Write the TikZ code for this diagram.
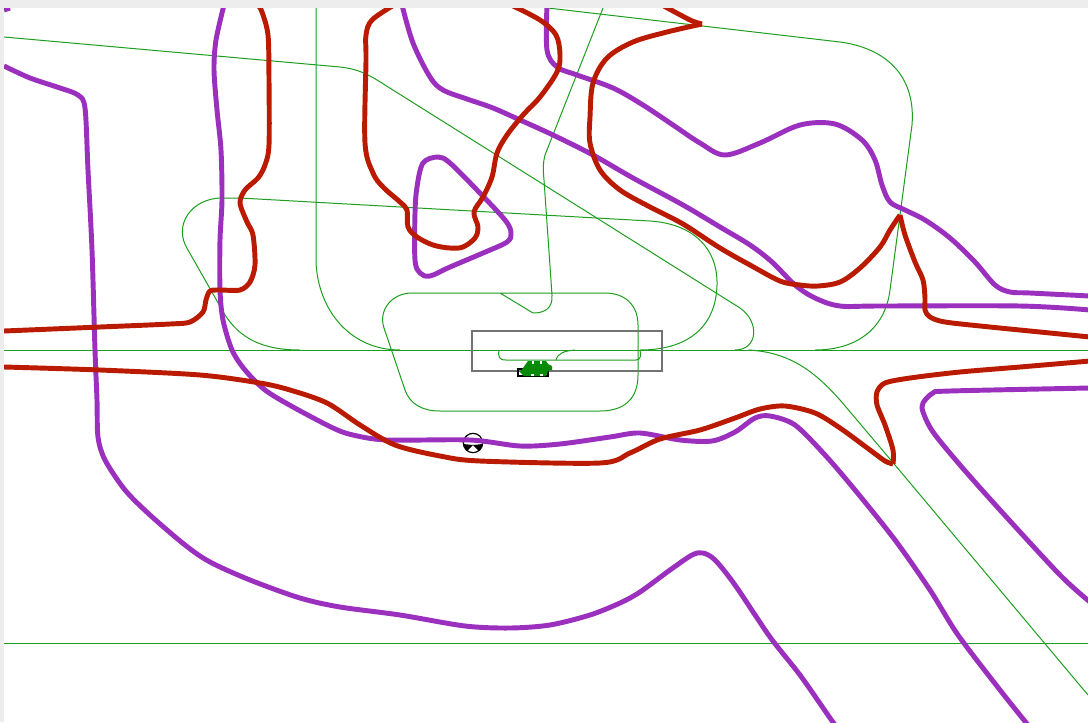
\documentclass[tikz,border=0pt]{standalone}
\definecolor{pur}{HTML}{9B2FBE}
\definecolor{rd}{HTML}{BA1A00}
\definecolor{gr}{HTML}{1E9E1E}
\definecolor{blob}{HTML}{078A07}
\tikzset{
  purline/.style={draw=pur,line width=3.7pt,line join=round},
  redline/.style={draw=rd,line width=3.7pt,line join=round},
  thin green/.style={draw=gr,line width=0.75pt,line join=round},
}
\begin{document}
\begin{tikzpicture}[x=0.75pt,y=-0.75pt]
\useasboundingbox (0,0) rectangle (1088,722);
\fill[white] (0,0) rectangle (1088,722);
\fill[black!7] (0,0) rectangle (1088,8);
\fill[black!7] (0,0) rectangle (4,722);
\begin{scope}
\clip (4,8) rectangle (1088,722);
% thin green
\draw[thin green] (4,350) -- (1088,350);
\draw[thin green] (4,643) -- (1088,643);
\draw[thin green] (4,37) -- (340,67) .. controls (358,69) and (368,74) .. (385,85) -- (740,308) .. controls (760,322) and (758,350) .. (735,350);
\draw[thin green] (748,350) .. controls (790,352) and (815,372) .. (840,400) -- (895,465) -- (1088,695);
\draw[thin green] (316,8) -- (316,262) .. controls (318,310) and (350,350) .. (400,350);
\draw[thin green] (603,8) -- (545,155) .. controls (543,162) and (543,170) .. (544,180) -- (552,295) .. controls (553,308) and (545,313) .. (533,313) -- (500,293) -- (412,293) .. controls (392,293) and (378,310) .. (384,328) -- (405,390) .. controls (410,404) and (422,411) .. (440,411) -- (600,411) .. controls (625,411) and (638,398) .. (638,375) -- (638,325) .. controls (638,305) and (625,293) .. (605,293) -- (500,293);
\draw[thin green] (548,8) -- (840,42) .. controls (885,48) and (916,75) .. (912,125) -- (890,290) .. controls (885,330) and (855,350) .. (815,350);
\draw[thin green] (240,198) -- (650,221) .. controls (695,224) and (718,250) .. (717,285) .. controls (716,325) and (690,350) .. (640,350);
\draw[thin green] (240,198) -- (222,198) .. controls (192,198) and (172,225) .. (188,250) -- (225,315) .. controls (240,338) and (262,350) .. (300,350);
% small track in the box
\draw[thin green] (499,350) .. controls (498,357) and (499,360) .. (506,360) -- (636,360) .. controls (641,360) and (641,355) .. (640,350);
\draw[thin green] (556,360) .. controls (558,353) and (564,351) .. (575,350);
% box
\draw[black!55,line width=0.9pt] (472,331) rectangle (662,371);
% vehicle blob
\draw[black,line width=0.9pt] (518,369) rectangle (548,376);
\fill[blob] (523,368) -- (528,361) -- (546,361) -- (548,364) -- (552,366) -- (552,370) -- (548,371) -- (546,376) -- (524,376) -- (520,372) -- cycle;
\fill[white] (532,361) rectangle (534,364);
\fill[white] (540,361) rectangle (542,364);
\fill[white] (531,374) rectangle (534,376);
\fill[white] (540,374) rectangle (543,376);
% marker
\node[circle,draw=black,fill=white,line width=0.9pt,inner sep=0pt,minimum size=14.5pt] (marker) at (473,443) {};
\fill[black] (473,445) -- (463,444) -- (467,451) -- cycle;
\fill[black] (473,445) -- (483,444) -- (479,451) -- cycle;
% purple
\draw[purline] (4,10) -- (10,8);
\draw[purline] plot[smooth,tension=0.5] coordinates {(4,66) (30,78) (60,88) (78,95) (85,108) (88,170) (92,250) (95,350) (97,400) (98,437) (105,460) (125,490) (150,515) (185,545) (210,562) (250,580) (300,598) (340,607) (400,615) (465,626) (510,628) (550,625) (590,615) (620,603) (640,592) (670,570) (692,555) (703,553) (715,560) (735,585) (770,637) (800,675) (830,718) (836,726)};
\draw[purline] plot[smooth,tension=0.5] coordinates {(224,5) (216,40) (214,70) (217,110) (221,150) (222,200) (220,240) (220,290) (223,320) (232,350) (245,370) (265,390) (293,407) (333,428) (353,435) (387,440) (470,440) (520,446) (560,444) (610,437) (640,433) (680,440) (712,441) (735,432) (755,418) (770,416) (795,425) (825,455) (855,490) (895,540) (930,590) (958,635) (1000,690) (1028,725)};
\draw[purline] plot[smooth,tension=0.55] coordinates {(402,5) (413,43) (430,77) (443,90) (467,99) (493,108) (520,120) (553,135) (593,155) (633,178) (683,205) (720,227) (750,245) (772,262) (795,285) (815,298) (840,306) (880,306) (1020,306) (1090,310)};
\draw[purline] plot[smooth,tension=0.55] coordinates {(547,5) (547,50) (557,67) (577,75) (613,88) (643,105) (673,125) (700,143) (725,155) (760,143) (800,125) (835,124) (862,140) (875,160) (882,185) (890,202) (905,210) (925,220) (950,238) (975,262) (995,285) (1010,292) (1030,293) (1090,296)};
\draw[purline] plot[smooth cycle,tension=0.55] coordinates {(438,157) (423,163) (417,187) (415,213) (415,260) (420,273) (430,276) (450,267) (483,253) (507,242) (511,233) (505,220) (477,190) (450,163)};
\draw[purline] plot[smooth,tension=0.5] coordinates {(1090,388) (950,391) (933,393) (923,403) (923,412) (933,432) (960,465) (1000,510) (1060,575) (1090,602)};
% red
\draw[redline] plot[smooth,tension=0.5] coordinates {(4,331) (100,327) (170,324) (190,322) (203,312) (206,300) (210,291) (220,290) (240,290) (250,282) (255,265) (253,235) (247,222) (240,203) (245,190) (258,178) (265,165) (269,145) (269,80) (268,35) (262,12) (258,5)};
\draw[redline] plot[smooth,tension=0.5] coordinates {(4,367) (100,370) (200,375) (260,383) (290,390) (327,403) (360,425) (395,445) (440,456) (480,461) (600,463) (630,453) (660,439) (700,430) (735,418) (760,409) (785,406) (815,413) (840,428) (870,450) (885,461) (893,464)};
\draw[redline] plot[smooth,tension=0.5] coordinates {(893,464) (893,450) (885,425) (877,405) (877,392) (885,383) (910,378) (960,372) (1020,367) (1090,361)};
\draw[redline] plot[smooth,tension=0.55] coordinates {(394,5) (372,20) (366,35) (366,60) (365,143) (373,173) (383,187) (400,202) (407,210) (408,227) (417,237) (433,245) (450,248) (463,247) (475,238) (478,227) (474,212) (483,197) (492,177) (497,153) (507,135) (523,115) (540,97) (557,72) (560,55) (556,35) (540,20) (511,5)};
\draw[redline] plot[smooth,tension=0.5] coordinates {(662,5) (690,20) (702,24)};
\draw[redline] plot[smooth,tension=0.55] coordinates {(702,24) (667,32) (633,42) (607,58) (593,83) (590,117) (590,143) (600,170) (620,190) (650,207) (683,224) (720,248) (750,265) (780,281) (800,285) (818,286) (840,282) (860,268) (880,247) (890,230) (900,215)};
\draw[redline] plot[smooth,tension=0.5] coordinates {(900,215) (905,235) (915,262) (923,280) (925,298) (925,310) (930,317) (945,322) (990,327) (1040,332) (1090,337)};
\end{scope}
\end{tikzpicture}
\end{document}
